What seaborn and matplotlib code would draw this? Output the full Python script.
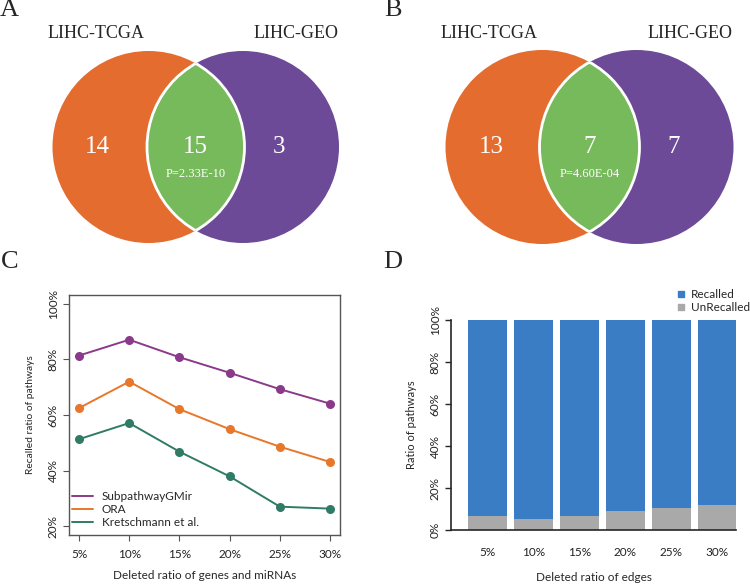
import numpy as np
import pandas as pd
import matplotlib
matplotlib.use("Agg")
import matplotlib.pyplot as plt
from matplotlib.patches import Circle
from matplotlib.lines import Line2D
from matplotlib.ticker import FuncFormatter
import seaborn as sns

# ---- data ----
venn_sets = ["LIHC-TCGA", "LIHC-GEO"]
venn_a = [14, 15, 3]          # only TCGA, shared, only GEO
venn_b = [13, 7, 7]
pval_a = "P=2.33E-10"
pval_b = "P=4.60E-04"

deleted = ["5%", "10%", "15%", "20%", "25%", "30%"]
methods = ["SubpathwayGMir", "ORA", "Kretschmann et al."]
subpathway = [81.4, 87.1, 80.8, 75.2, 69.3, 64.1]
ora = [62.5, 72.0, 62.1, 54.9, 48.6, 43.1]
kretschmann = [51.3, 57.1, 46.8, 37.9, 27.0, 26.3]

edges_deleted = ["5%", "10%", "15%", "20%", "25%", "30%"]
unrecalled = [6.8, 5.2, 6.8, 8.9, 10.6, 11.9]
recalled = [100 - u for u in unrecalled]

sns.set_style("ticks")
plt.rcParams["font.family"] = ["Lato", "DejaVu Sans"]
SERIF = ["Liberation Serif", "DejaVu Serif"]
FS = 8.5

W, H = 750, 584
fig = plt.figure(figsize=(7.5, 5.84), dpi=100)


def px_axes(x0, y0, x1, y1):
    # axes placed by pixel box (top-left origin)
    return fig.add_axes([x0 / W, 1 - y1 / H, (x1 - x0) / W, (y1 - y0) / H])


def venn(ax, counts, pval, cx1, cx2, cy, r):
    orange, purple, green = "#E46C2E", "#6C4A97", "#77BA5B"
    ax.add_patch(Circle((cx1, cy), r, fc=orange, ec="none"))
    ax.add_patch(Circle((cx2, cy), r, fc=purple, ec="none"))
    lens = Circle((cx1, cy), r, fc=green, ec="none")
    ax.add_patch(lens)
    lens.set_clip_path(Circle((cx2, cy), r, transform=ax.transData))
    e1 = Circle((cx1, cy), r, fc="none", ec="white", lw=2)
    ax.add_patch(e1)
    e1.set_clip_path(Circle((cx2, cy), r, transform=ax.transData))
    e2 = Circle((cx2, cy), r, fc="none", ec="white", lw=2)
    ax.add_patch(e2)
    e2.set_clip_path(Circle((cx1, cy), r, transform=ax.transData))
    mid = (cx1 + cx2) / 2
    xs = [cx1 - r * 0.53, mid, cx2 + r * 0.38]
    for x, n in zip(xs, counts):
        ax.text(x, cy, str(n), ha="center", va="center", color="white",
                fontsize=18, family=SERIF)
    ax.text(mid, cy + 27, pval, ha="center", va="center", color="white",
            fontsize=9, family=SERIF)
    ax.text(cx1 - r * 0.55, 33, venn_sets[0], ha="center", va="center",
            fontsize=13, family=SERIF)
    ax.text(cx2 + r * 0.55, 33, venn_sets[1], ha="center", va="center",
            fontsize=13, family=SERIF)


# ---- A / B venn panels ----
axA = px_axes(0, 0, 375, 260)
axA.set_xlim(0, 375)
axA.set_ylim(260, 0)
axA.axis("off")
venn(axA, venn_a, pval_a, 148.5, 243, 147, 96)

axB = px_axes(375, 0, 750, 260)
axB.set_xlim(0, 375)
axB.set_ylim(260, 0)
axB.axis("off")
venn(axB, venn_b, pval_b, 167.5, 261.5, 147, 97)

for lab, x, y in [("A", 9, 10), ("B", 393, 10), ("C", 10, 262), ("D", 393, 262)]:
    fig.text(x / W, 1 - y / H, lab, ha="center", va="center", fontsize=19,
             family=SERIF)

# ---- C: line chart ----
axC = px_axes(69, 295, 340, 535)
colors = ["#8B3A8B", "#E8772B", "#2F7B66"]
xs = np.arange(1, len(deleted) + 1)
df_c = pd.DataFrame({
    "x": np.tile(xs, 3),
    "y": np.concatenate([subpathway, ora, kretschmann]) / 100,
    "method": np.repeat(methods, len(deleted)),
})
sns.lineplot(data=df_c, x="x", y="y", hue="method", hue_order=methods,
             palette=colors, marker="o", markersize=6.5, markeredgewidth=0,
             linewidth=1.4, ax=axC, legend=False)
axC.set_xlim(0.8, 6.2)
axC.set_ylim(0.168, 1.032)
axC.set_xticks(xs)
axC.set_xticklabels(deleted)
axC.set_yticks([0.2, 0.4, 0.6, 0.8, 1.0])
axC.yaxis.set_major_formatter(FuncFormatter(lambda v, p: f"{v * 100:.0f}%"))
for lab in axC.get_yticklabels():
    lab.set_rotation(90)
    lab.set_va("center")
for s in axC.spines.values():
    s.set_visible(True)
    s.set_color("#555555")
    s.set_linewidth(1.0)
axC.tick_params(axis="both", labelsize=FS, color="#555555", length=4,
                labelcolor="#222222")
axC.tick_params(axis="x", pad=6)
axC.set_xlabel("Deleted ratio of genes and miRNAs", fontsize=FS, labelpad=7)
axC.set_ylabel("Recalled ratio of pathways", fontsize=7.4, labelpad=9)
handles = [Line2D([0], [0], color=c, lw=1.4) for c in colors]
axC.legend(handles, methods, loc="lower left", frameon=False, fontsize=FS,
           handlelength=1.8, handletextpad=0.7, labelspacing=0.15,
           borderpad=0, borderaxespad=0, bbox_to_anchor=(3 / 271, 7 / 240))

# ---- D: stacked bar chart ----
axD = px_axes(451, 320, 736, 530)
df_d = pd.DataFrame({"x": edges_deleted, "rec": [100] * 6, "unrec": unrecalled})
blue, grey = "#3A7DC4", "#A9A9A9"
sns.barplot(data=df_d, x="x", y="rec", color=blue, saturation=1, width=0.85,
            linewidth=0, ax=axD)
sns.barplot(data=df_d, x="x", y="unrec", color=grey, saturation=1, width=0.85,
            linewidth=0, ax=axD)
axD.set_xlim(-0.79, 5.41)
axD.set_ylim(0, 100)
axD.set_yticks([0, 20, 40, 60, 80, 100])
axD.yaxis.set_major_formatter(FuncFormatter(lambda v, p: f"{v:.0f}%"))
for lab in axD.get_yticklabels():
    lab.set_rotation(90)
    lab.set_va("center")
sns.despine(ax=axD)
axD.spines["left"].set_linewidth(1.2)
axD.spines["bottom"].set_linewidth(1.2)
axD.tick_params(axis="y", labelsize=FS, length=4, width=1.0,
                labelcolor="#222222")
axD.tick_params(axis="x", labelsize=FS, length=0, pad=12,
                labelcolor="#222222")
axD.set_xlabel("Deleted ratio of edges", fontsize=FS, labelpad=10)
axD.set_ylabel("Ratio of pathways", fontsize=8.0, labelpad=9)
leg_h = [Line2D([0], [0], marker="s", ls="none", color=blue, markersize=4),
         Line2D([0], [0], marker="s", ls="none", color=grey, markersize=4)]
fig.legend(leg_h, ["Recalled", "UnRecalled"], loc="upper left",
           bbox_to_anchor=(670 / W, 1 - 283 / H), frameon=False, fontsize=FS,
           handlelength=0.8, handletextpad=0.5, labelspacing=0.15,
           borderpad=0)

fig.savefig("out.png", dpi=100)
